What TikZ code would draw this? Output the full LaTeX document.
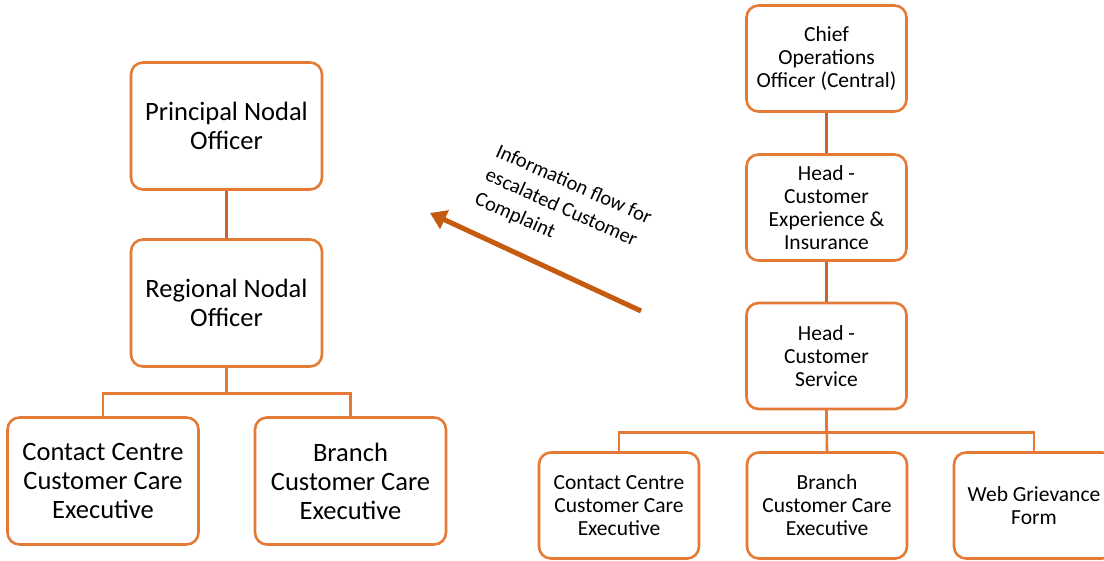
\documentclass[tikz,border=0pt]{standalone}
\usepackage{fontspec}
\setmainfont{Carlito}
\usetikzlibrary{arrows.meta}
\definecolor{boxline}{HTML}{E47A35}
\definecolor{linkline}{HTML}{C8652A}
\definecolor{flow}{HTML}{C55A11}
\begin{document}
\begin{tikzpicture}[x=1pt,y=-1pt,
    box/.style={draw=boxline, line width=2.6pt, rounded corners=12pt, fill=white, align=center, inner sep=1pt},
    bigbox/.style={box, minimum width=191pt, minimum height=127pt, font=\fontsize{26.5}{29}\selectfont},
    smallbox/.style={box, minimum width=160pt, minimum height=106pt, font=\fontsize{21.5}{23}\selectfont},
    link/.style={draw=linkline, line width=2.6pt}]
    \useasboundingbox (0,0) rectangle (1104,561);
    \clip (0,0) rectangle (1104,561);
    % regional hierarchy (left)
    \node[bigbox] (pno) at (226.5,126) {Principal Nodal\\Officer};
    \node[bigbox] (rno) at (226.5,303) {Regional Nodal\\Officer};
    \node[bigbox] (lcc) at (103,481) {Contact Centre\\Customer Care\\Executive};
    \node[bigbox] (lbr) at (350.5,481) {Branch\\Customer Care\\Executive};
    \draw[link] (pno) -- (rno);
    \draw[link, draw=boxline] (rno.south) -- ++(0,26) -| (lcc.north);
    \draw[link, draw=boxline] (rno.south) -- ++(0,26) -| (lbr.north);
    % central hierarchy (right)
    \node[smallbox] (coo) at (826.5,58.5) {Chief\\Operations\\Officer (Central)};
    \node[smallbox] (hce) at (826.5,207.5) {Head -\\Customer\\Experience \&\\Insurance};
    \node[smallbox] (hcs) at (826.5,356) {Head -\\Customer\\Service};
    \node[smallbox] (rcc) at (619,505.5) {Contact Centre\\Customer Care\\Executive};
    \node[smallbox] (rbr) at (827,505.5) {Branch\\Customer Care\\Executive};
    \node[smallbox] (web) at (1034,505.5) {Web Grievance\\Form};
    \draw[link] (coo) -- (hce);
    \draw[link] (hce) -- (hcs);
    \draw[link, draw=boxline] (hcs.south) -- ++(0,22) -| (rcc.north);
    \draw[link, draw=boxline] (hcs.south) -- (rbr.north);
    \draw[link, draw=boxline] (hcs.south) -- ++(0,22) -| (web.north);
    % escalation arrow
    \coordinate (from) at (641,311);
    \coordinate (to) at (430,213);
    \draw[flow, line width=5pt, -{Triangle[length=16pt, width=20pt]}] (from) -- (to);
    \node[rotate=-24, align=left, inner sep=0pt, font=\fontsize{20.5}{26}\selectfont] (lbl) at (563,209)
        {Information flow for\\escalated Customer\\Complaint};
\end{tikzpicture}
\end{document}
